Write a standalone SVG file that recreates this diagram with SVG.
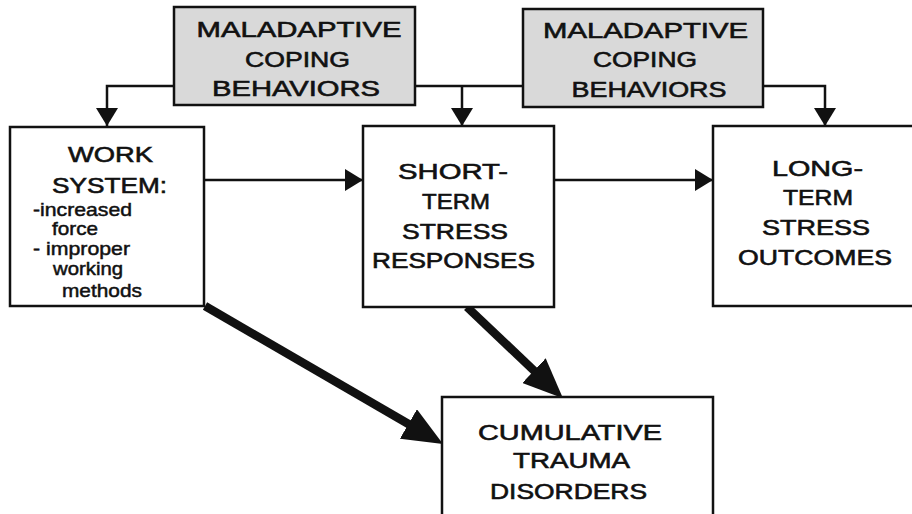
<svg xmlns="http://www.w3.org/2000/svg" width="912" height="514" viewBox="0 0 912 514">
  <style>
    .box { fill: #ffffff; stroke: #111111; stroke-width: 2.5; }
    .gray { fill: #d9d9d9; stroke: #111111; stroke-width: 2.5; }
    .cap { font-family: "Liberation Sans", Arial, sans-serif; font-size: 22px; fill: #111111; stroke: #111111; stroke-width: 0.6; text-anchor: middle; }
    .small { font-family: "Liberation Sans", Arial, sans-serif; font-size: 19px; fill: #111111; stroke: #111111; stroke-width: 0.5; }
    .thin { fill: none; stroke: #111111; stroke-width: 2.5; }
    .thick { fill: none; stroke: #111111; stroke-width: 8.5; }
  </style>
  <defs>
    <marker id="tip" markerUnits="userSpaceOnUse" markerWidth="18" markerHeight="22" refX="18" refY="11" orient="auto">
      <path d="M0,0 L18,11 L0,22 Z" fill="#111111"/>
    </marker>
    <marker id="bigtip" markerUnits="userSpaceOnUse" markerWidth="40" markerHeight="34" refX="18" refY="17" orient="auto">
      <path d="M0,0 L40,17 L0,34 Z" fill="#111111"/>
    </marker>
  </defs>
  <rect width="912" height="514" fill="#ffffff"/>

  <g id="connectors">
    <path class="thin" d="M174,86 H107 V126" marker-end="url(#tip)"/>
    <path class="thin" d="M415,86 H523"/>
    <path class="thin" d="M462,86 V126" marker-end="url(#tip)"/>
    <path class="thin" d="M763,86 H825 V126" marker-end="url(#tip)"/>
    <path class="thin" d="M204,180 H363" marker-end="url(#tip)"/>
    <path class="thin" d="M554,180 H713" marker-end="url(#tip)"/>
    <path class="thick" d="M205,306 L424,433" marker-end="url(#bigtip)"/>
    <path class="thick" d="M467,307 L547,383" marker-end="url(#bigtip)"/>
  </g>

  <g id="coping-left">
    <rect class="gray" x="174" y="7" width="241" height="98"/>
    <text class="cap" x="299" y="37" textLength="205" lengthAdjust="spacingAndGlyphs">MALADAPTIVE</text>
    <text class="cap" x="297.5" y="67" textLength="105" lengthAdjust="spacingAndGlyphs">COPING</text>
    <text class="cap" x="296" y="96" textLength="168" lengthAdjust="spacingAndGlyphs">BEHAVIORS</text>
  </g>

  <g id="coping-right">
    <rect class="gray" x="523" y="9" width="240" height="98"/>
    <text class="cap" x="645.5" y="38" textLength="205" lengthAdjust="spacingAndGlyphs">MALADAPTIVE</text>
    <text class="cap" x="645" y="67" textLength="104" lengthAdjust="spacingAndGlyphs">COPING</text>
    <text class="cap" x="649" y="97" textLength="155" lengthAdjust="spacingAndGlyphs">BEHAVIORS</text>
  </g>

  <g id="work-system">
    <rect class="box" x="10" y="127" width="194" height="179"/>
    <text class="cap" x="110.5" y="162" textLength="85" lengthAdjust="spacingAndGlyphs">WORK</text>
    <text class="cap" x="109.5" y="193" textLength="115" lengthAdjust="spacingAndGlyphs">SYSTEM:</text>
    <text class="small" x="33" y="216" textLength="99" lengthAdjust="spacingAndGlyphs">-increased</text>
    <text class="small" x="52" y="235" textLength="46" lengthAdjust="spacingAndGlyphs">force</text>
    <text class="small" x="33" y="255" textLength="97" lengthAdjust="spacingAndGlyphs">- improper</text>
    <text class="small" x="53" y="275" textLength="70" lengthAdjust="spacingAndGlyphs">working</text>
    <text class="small" x="62" y="297" textLength="80" lengthAdjust="spacingAndGlyphs">methods</text>
  </g>

  <g id="short-term">
    <rect class="box" x="363" y="126" width="191" height="181"/>
    <text class="cap" x="453" y="179" textLength="110" lengthAdjust="spacingAndGlyphs">SHORT-</text>
    <text class="cap" x="456" y="209" textLength="68" lengthAdjust="spacingAndGlyphs">TERM</text>
    <text class="cap" x="455" y="239" textLength="106" lengthAdjust="spacingAndGlyphs">STRESS</text>
    <text class="cap" x="453.5" y="268" textLength="163" lengthAdjust="spacingAndGlyphs">RESPONSES</text>
  </g>

  <g id="long-term">
    <rect class="box" x="713" y="126" width="220" height="180"/>
    <text class="cap" x="817.5" y="176" textLength="91" lengthAdjust="spacingAndGlyphs">LONG-</text>
    <text class="cap" x="818" y="205" textLength="70" lengthAdjust="spacingAndGlyphs">TERM</text>
    <text class="cap" x="816" y="235" textLength="108" lengthAdjust="spacingAndGlyphs">STRESS</text>
    <text class="cap" x="815" y="265" textLength="154" lengthAdjust="spacingAndGlyphs">OUTCOMES</text>
  </g>

  <g id="cumulative-trauma">
    <rect class="box" x="442" y="397" width="271" height="130"/>
    <text class="cap" x="570" y="440" textLength="184" lengthAdjust="spacingAndGlyphs">CUMULATIVE</text>
    <text class="cap" x="571.5" y="468" textLength="117" lengthAdjust="spacingAndGlyphs">TRAUMA</text>
    <text class="cap" x="568.5" y="499" textLength="157" lengthAdjust="spacingAndGlyphs">DISORDERS</text>
  </g>
</svg>
